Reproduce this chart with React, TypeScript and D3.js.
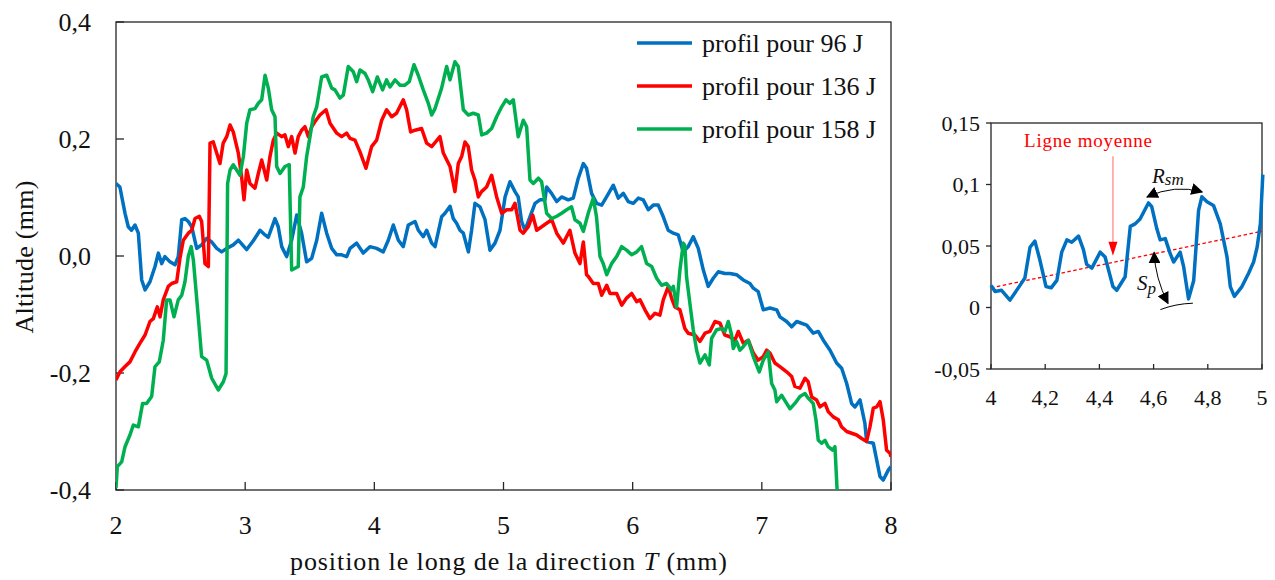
import React from 'react';
import * as d3 from 'd3';

type Pt = [number, number];

// profils d'altitude le long de T (mm)
const profile96: Pt[] = [[2.0,0.124],[2.03,0.118],[2.07,0.073],[2.095,0.05],[2.12,0.044],[2.147,0.053],[2.173,0.039],[2.199,-0.041],[2.225,-0.058],[2.263,-0.044],[2.302,-0.018],[2.328,0.005],[2.354,-0.013],[2.379,-0.001],[2.418,-0.01],[2.457,-0.015],[2.482,-0.001],[2.509,0.062],[2.534,0.064],[2.56,0.059],[2.586,0.05],[2.625,0.013],[2.663,0.019],[2.702,0.03],[2.741,0.024],[2.78,0.013],[2.818,0.007],[2.857,0.013],[2.908,0.019],[2.947,0.027],[3.012,0.011],[3.063,0.026],[3.115,0.044],[3.154,0.036],[3.179,0.032],[3.231,0.064],[3.256,0.05],[3.283,0.016],[3.321,-0.001],[3.36,0.027],[3.399,0.07],[3.437,0.039],[3.476,-0.01],[3.515,-0.004],[3.554,0.027],[3.592,0.073],[3.631,0.039],[3.67,0.013],[3.709,0.002],[3.747,0.002],[3.786,-0.001],[3.812,0.013],[3.863,0.022],[3.914,0.005],[3.966,0.016],[4.018,0.013],[4.069,0.007],[4.108,0.027],[4.147,0.053],[4.186,0.027],[4.224,0.016],[4.263,0.053],[4.315,0.059],[4.341,0.044],[4.379,0.033],[4.405,0.044],[4.444,0.022],[4.47,0.016],[4.521,0.067],[4.547,0.073],[4.586,0.085],[4.611,0.064],[4.637,0.056],[4.663,0.044],[4.689,0.039],[4.728,0.007],[4.753,0.044],[4.779,0.09],[4.818,0.084],[4.857,0.062],[4.895,0.01],[4.934,0.022],[4.973,0.044],[5.012,0.101],[5.05,0.127],[5.089,0.11],[5.114,0.101],[5.14,0.059],[5.166,0.044],[5.205,0.067],[5.244,0.09],[5.282,0.096],[5.321,0.096],[5.334,0.118],[5.372,0.107],[5.412,0.093],[5.45,0.101],[5.501,0.096],[5.54,0.099],[5.579,0.133],[5.618,0.158],[5.643,0.15],[5.682,0.107],[5.721,0.09],[5.76,0.087],[5.798,0.101],[5.85,0.121],[5.889,0.099],[5.928,0.107],[5.966,0.093],[6.005,0.09],[6.044,0.099],[6.082,0.096],[6.121,0.079],[6.16,0.087],[6.198,0.087],[6.237,0.067],[6.275,0.044],[6.315,0.039],[6.353,0.036],[6.392,0.007],[6.43,0.016],[6.469,0.033],[6.508,0.013],[6.547,-0.024],[6.585,-0.052],[6.624,-0.038],[6.663,-0.027],[6.714,-0.03],[6.753,-0.03],[6.804,-0.032],[6.856,-0.041],[6.908,-0.047],[6.934,-0.055],[6.972,-0.061],[7.011,-0.092],[7.063,-0.089],[7.115,-0.092],[7.14,-0.104],[7.192,-0.112],[7.231,-0.121],[7.27,-0.112],[7.347,-0.118],[7.398,-0.132],[7.437,-0.129],[7.476,-0.144],[7.528,-0.161],[7.579,-0.183],[7.618,-0.192],[7.657,-0.218],[7.695,-0.252],[7.721,-0.258],[7.76,-0.246],[7.798,-0.286],[7.811,-0.317],[7.863,-0.32],[7.915,-0.377],[7.94,-0.383],[7.979,-0.366],[8.0,-0.36]];

const profile136: Pt[] = [[2.0,-0.212],[2.031,-0.198],[2.07,-0.189],[2.108,-0.181],[2.147,-0.164],[2.186,-0.149],[2.225,-0.135],[2.263,-0.112],[2.289,-0.107],[2.32,-0.087],[2.341,-0.104],[2.366,-0.075],[2.405,-0.052],[2.431,-0.047],[2.47,-0.044],[2.495,-0.004],[2.521,0.027],[2.56,0.039],[2.586,0.044],[2.612,0.064],[2.645,0.068],[2.663,0.059],[2.689,-0.013],[2.715,-0.018],[2.728,0.193],[2.753,0.195],[2.805,0.158],[2.83,0.193],[2.857,0.204],[2.883,0.224],[2.908,0.212],[2.947,0.176],[2.972,0.136],[2.991,0.096],[3.012,0.147],[3.037,0.124],[3.076,0.116],[3.102,0.141],[3.128,0.164],[3.167,0.13],[3.192,0.17],[3.218,0.198],[3.244,0.21],[3.283,0.204],[3.308,0.207],[3.334,0.187],[3.36,0.204],[3.386,0.176],[3.411,0.204],[3.437,0.215],[3.463,0.221],[3.489,0.204],[3.515,0.221],[3.541,0.23],[3.579,0.241],[3.626,0.25],[3.657,0.227],[3.709,0.21],[3.747,0.204],[3.786,0.21],[3.812,0.201],[3.85,0.198],[3.889,0.178],[3.935,0.15],[3.979,0.187],[4.018,0.198],[4.057,0.232],[4.095,0.25],[4.134,0.238],[4.172,0.244],[4.224,0.267],[4.25,0.25],[4.281,0.212],[4.315,0.215],[4.366,0.218],[4.405,0.193],[4.444,0.187],[4.508,0.204],[4.534,0.176],[4.586,0.153],[4.624,0.11],[4.65,0.158],[4.676,0.17],[4.702,0.195],[4.727,0.187],[4.753,0.147],[4.779,0.13],[4.805,0.101],[4.83,0.11],[4.869,0.118],[4.908,0.138],[4.947,0.101],[4.986,0.073],[5.025,0.079],[5.063,0.079],[5.089,0.09],[5.128,0.044],[5.153,0.039],[5.192,0.05],[5.226,0.07],[5.257,0.044],[5.296,0.05],[5.334,0.056],[5.373,0.062],[5.412,0.039],[5.463,0.022],[5.514,0.044],[5.553,0.005],[5.592,-0.013],[5.618,0.024],[5.643,-0.032],[5.657,-0.035],[5.695,-0.047],[5.734,-0.047],[5.76,-0.067],[5.799,-0.05],[5.824,-0.064],[5.876,-0.064],[5.915,-0.084],[5.953,-0.072],[5.992,-0.064],[6.031,-0.078],[6.057,-0.075],[6.095,-0.092],[6.134,-0.107],[6.173,-0.098],[6.211,-0.101],[6.237,-0.075],[6.276,-0.052],[6.301,-0.072],[6.327,-0.087],[6.366,-0.092],[6.404,-0.124],[6.43,-0.132],[6.482,-0.135],[6.521,-0.146],[6.56,-0.132],[6.598,-0.129],[6.637,-0.112],[6.676,-0.115],[6.714,-0.135],[6.753,-0.138],[6.792,-0.144],[6.818,-0.129],[6.856,-0.149],[6.895,-0.144],[6.934,-0.166],[6.972,-0.178],[7.011,-0.172],[7.037,-0.161],[7.063,-0.166],[7.101,-0.183],[7.14,-0.189],[7.192,-0.198],[7.231,-0.206],[7.256,-0.223],[7.295,-0.226],[7.334,-0.209],[7.359,-0.215],[7.386,-0.241],[7.424,-0.246],[7.45,-0.258],[7.489,-0.252],[7.514,-0.266],[7.553,-0.275],[7.592,-0.28],[7.617,-0.292],[7.657,-0.3],[7.695,-0.303],[7.734,-0.306],[7.773,-0.312],[7.811,-0.317],[7.837,-0.292],[7.863,-0.26],[7.889,-0.258],[7.915,-0.249],[7.94,-0.28],[7.966,-0.332],[7.992,-0.337],[8.0,-0.343]];

const profile158: Pt[] = [[2.0,-0.397],[2.01,-0.36],[2.044,-0.352],[2.07,-0.326],[2.108,-0.306],[2.134,-0.289],[2.173,-0.292],[2.206,-0.252],[2.237,-0.252],[2.276,-0.24],[2.302,-0.189],[2.335,-0.181],[2.366,-0.144],[2.392,-0.075],[2.418,-0.075],[2.449,-0.104],[2.482,-0.075],[2.509,-0.067],[2.534,-0.044],[2.56,0.0],[2.582,0.016],[2.599,-0.007],[2.637,-0.104],[2.663,-0.172],[2.702,-0.178],[2.741,-0.209],[2.792,-0.229],[2.831,-0.215],[2.852,-0.201],[2.864,0.124],[2.883,0.147],[2.908,0.156],[2.934,0.147],[2.96,0.138],[2.986,0.17],[3.012,0.227],[3.037,0.25],[3.076,0.252],[3.102,0.261],[3.128,0.267],[3.154,0.309],[3.179,0.287],[3.205,0.25],[3.231,0.238],[3.244,0.153],[3.27,0.141],[3.308,0.153],[3.341,0.156],[3.36,-0.024],[3.386,-0.021],[3.411,-0.018],[3.424,0.101],[3.45,0.118],[3.476,0.17],[3.502,0.204],[3.527,0.238],[3.554,0.255],[3.592,0.306],[3.631,0.309],[3.67,0.287],[3.695,0.284],[3.734,0.27],[3.76,0.275],[3.798,0.324],[3.837,0.315],[3.863,0.298],[3.889,0.318],[3.928,0.312],[3.953,0.301],[3.987,0.281],[4.023,0.306],[4.064,0.284],[4.095,0.301],[4.121,0.289],[4.16,0.301],[4.199,0.292],[4.237,0.292],[4.27,0.298],[4.307,0.327],[4.34,0.309],[4.379,0.284],[4.418,0.261],[4.444,0.241],[4.47,0.252],[4.521,0.287],[4.56,0.324],[4.586,0.301],[4.624,0.332],[4.65,0.324],[4.689,0.25],[4.728,0.241],[4.766,0.244],[4.805,0.241],[4.831,0.207],[4.869,0.21],[4.908,0.218],[4.947,0.238],[4.986,0.255],[5.019,0.267],[5.05,0.261],[5.076,0.267],[5.114,0.204],[5.153,0.232],[5.179,0.221],[5.205,0.13],[5.231,0.124],[5.27,0.133],[5.295,0.127],[5.334,0.073],[5.373,0.064],[5.412,0.068],[5.45,0.073],[5.489,0.079],[5.527,0.084],[5.553,0.062],[5.592,0.056],[5.618,0.042],[5.656,0.073],[5.695,0.099],[5.72,0.067],[5.747,-0.001],[5.772,-0.013],[5.799,-0.032],[5.837,-0.013],[5.876,-0.001],[5.915,0.016],[5.953,0.01],[5.992,0.002],[6.031,0.007],[6.069,0.016],[6.108,-0.013],[6.147,-0.018],[6.186,-0.038],[6.224,-0.05],[6.263,-0.047],[6.301,-0.058],[6.315,-0.052],[6.34,-0.087],[6.366,-0.024],[6.392,0.022],[6.404,0.018],[6.417,-0.035],[6.443,-0.081],[6.469,-0.126],[6.495,-0.161],[6.521,-0.183],[6.56,-0.169],[6.593,-0.186],[6.611,-0.141],[6.65,-0.126],[6.689,-0.124],[6.714,-0.129],[6.74,-0.112],[6.766,-0.135],[6.779,-0.158],[6.804,-0.146],[6.83,-0.161],[6.856,-0.155],[6.895,-0.144],[6.934,-0.172],[6.98,-0.198],[7.011,-0.178],[7.05,-0.164],[7.076,-0.218],[7.101,-0.229],[7.115,-0.249],[7.153,-0.238],[7.192,-0.252],[7.218,-0.261],[7.256,-0.252],[7.295,-0.24],[7.334,-0.235],[7.359,-0.243],[7.398,-0.252],[7.419,-0.28],[7.437,-0.315],[7.463,-0.32],[7.489,-0.315],[7.514,-0.326],[7.548,-0.332],[7.566,-0.326],[7.585,-0.41]];

// zoom du profil 96 J entre 4 et 5 mm
const zoom96: Pt[] = [[4.0,0.018],[4.015,0.013],[4.039,0.014],[4.07,0.006],[4.107,0.018],[4.125,0.024],[4.144,0.049],[4.162,0.054],[4.18,0.039],[4.203,0.017],[4.222,0.016],[4.243,0.022],[4.261,0.045],[4.28,0.055],[4.298,0.053],[4.323,0.058],[4.341,0.047],[4.353,0.035],[4.372,0.032],[4.403,0.045],[4.421,0.041],[4.45,0.017],[4.464,0.014],[4.495,0.025],[4.514,0.066],[4.532,0.068],[4.55,0.072],[4.581,0.085],[4.593,0.082],[4.612,0.064],[4.624,0.055],[4.643,0.056],[4.661,0.044],[4.674,0.037],[4.698,0.045],[4.711,0.033],[4.729,0.007],[4.748,0.022],[4.766,0.079],[4.778,0.09],[4.797,0.086],[4.821,0.083],[4.846,0.068],[4.871,0.041],[4.883,0.017],[4.898,0.009],[4.926,0.017],[4.951,0.028],[4.969,0.037],[4.982,0.049],[4.994,0.068],[5.003,0.108]];
const meanLine: Pt[] = [[4.0,0.016],[5.0,0.062]];

const seriesNames = ['profil pour 96 J', 'profil pour 136 J', 'profil pour 158 J'];
const seriesColors = ['#0070C0', '#FF0000', '#00B050'];
const seriesData = [profile96, profile136, profile158];

const mainXTicks = [2, 3, 4, 5, 6, 7, 8];
const mainYTicks = [-0.4, -0.2, 0, 0.2, 0.4];
const zoomXTicks = [4, 4.2, 4.4, 4.6, 4.8, 5];
const zoomYTicks = [-0.05, 0, 0.05, 0.1, 0.15];

const fr = d3.formatLocale({ decimal: ',', thousands: ' ', grouping: [3], currency: ['', ' €'], minus: '-' });
const fmt1 = fr.format('.1f');
const fmtG = fr.format('~g');

const FONT = "'Liberation Serif', 'DejaVu Serif', serif";
const AXIS = '#262626';
const TXT = { fontFamily: FONT };

export default function App() {
  // main plot
  const m = { left: 116, right: 891, top: 22, bottom: 490 };
  const x = d3.scaleLinear().domain([2, 8]).range([m.left, m.right]);
  const y = d3.scaleLinear().domain([-0.4, 0.4]).range([m.bottom, m.top]);
  const line = d3.line<Pt>().x(d => x(d[0])).y(d => y(d[1]));

  // inset plot
  const z = { left: 991, right: 1262, top: 123, bottom: 369 };
  const zx = d3.scaleLinear().domain([4, 5]).range([z.left, z.right]);
  const zy = d3.scaleLinear().domain([-0.05, 0.15]).range([z.bottom, z.top]);
  const zline = d3.line<Pt>().x(d => zx(d[0])).y(d => zy(d[1]));

  // annotation anchors (inset data coords)
  const arrowX = zx(4.45);
  const arrowTip = zy(0.042);
  const arrowTop = zy(0.123);
  const rsmA: Pt = [zx(4.576), zy(0.0898)];
  const rsmB: Pt = [zx(4.779), zy(0.0939)];
  const spA: Pt = [zx(4.602), zy(0.0448)];
  const spB: Pt = [zx(4.653), zy(0.0034)];

  return (
    <svg width={1275} height={580} style={{ position: 'absolute', left: 0, top: 0, background: '#fff', fontFamily: FONT }}>
      <defs>
        <clipPath id="mainClip">
          <rect x={m.left} y={m.top} width={m.right - m.left} height={m.bottom - m.top} />
        </clipPath>
        <marker id="blackHead" viewBox="0 0 10 10" refX="9" refY="5" markerWidth="12" markerHeight="12" markerUnits="userSpaceOnUse" orient="auto-start-reverse">
          <path d="M0,0 L10,5 L0,10 z" fill="#000" />
        </marker>
      </defs>

      {/* main frame */}
      <rect x={m.left} y={m.top} width={m.right - m.left} height={m.bottom - m.top} fill="none" stroke={AXIS} strokeWidth={1.3} />
      {mainYTicks.map(t => (
        <g key={'my' + t}>
          <line x1={m.left} x2={m.left + 8} y1={y(t)} y2={y(t)} stroke={AXIS} strokeWidth={1.3} />
          <text x={91} y={y(t)} dy="0.35em" textAnchor="end" fontSize={26} fill="#111" style={TXT}>{fmt1(t)}</text>
        </g>
      ))}
      {mainXTicks.map(t => (
        <g key={'mx' + t}>
          <line x1={x(t)} x2={x(t)} y1={m.bottom} y2={m.bottom - 8} stroke={AXIS} strokeWidth={1.3} />
          <text x={x(t)} y={534} textAnchor="middle" fontSize={26} fill="#111" style={TXT}>{fmtG(t)}</text>
        </g>
      ))}
      <text x={290} y={570} fontSize={26} fill="#111" style={TXT} textLength={437} lengthAdjust="spacing">
        position le long de la direction <tspan fontStyle="italic">T</tspan> (mm)
      </text>
      <text transform="translate(33,257) rotate(-90)" textAnchor="middle" fontSize={26} fill="#111" style={TXT} textLength={153} lengthAdjust="spacing">Altitude (mm)</text>

      <g clipPath="url(#mainClip)">
        {seriesData.map((s, i) => (
          <path key={i} d={line(s) || ''} fill="none" stroke={seriesColors[i]} strokeWidth={3.5} strokeLinejoin="round" />
        ))}
      </g>

      {/* legend */}
      {seriesNames.map((n, i) => (
        <g key={n} transform={`translate(637,${43 + i * 43})`}>
          <line x1={0} x2={55} y1={0} y2={0} stroke={seriesColors[i]} strokeWidth={3.5} />
          <text x={65} y={0} dy="0.33em" fontSize={26} fill="#111" style={TXT}>{n}</text>
        </g>
      ))}

      {/* inset */}
      <rect x={z.left} y={z.top} width={z.right - z.left} height={z.bottom - z.top} fill="none" stroke={AXIS} strokeWidth={1.3} />
      {zoomYTicks.map(t => (
        <g key={'zy' + t}>
          <line x1={z.left - 5} x2={z.left} y1={zy(t)} y2={zy(t)} stroke={AXIS} strokeWidth={1.3} />
          <text x={980} y={zy(t)} dy="0.35em" textAnchor="end" fontSize={22} fill="#111" style={TXT}>{fmtG(t)}</text>
        </g>
      ))}
      {zoomXTicks.map(t => (
        <g key={'zx' + t}>
          <line x1={zx(t)} x2={zx(t)} y1={z.bottom} y2={z.bottom - 5} stroke={AXIS} strokeWidth={1.3} />
          <text x={zx(t)} y={405} textAnchor="middle" fontSize={22} fill="#111" style={TXT}>{fmtG(t)}</text>
        </g>
      ))}
      <path d={zline(meanLine) || ''} fill="none" stroke="#FF0000" strokeWidth={1.3} strokeDasharray="3.5 2.5" />
      <path d={zline(zoom96) || ''} fill="none" stroke="#0070C0" strokeWidth={3.5} strokeLinejoin="round" />

      <text x={1024} y={147} fontSize={19} fill="#FF0000" style={TXT} textLength={128} lengthAdjust="spacing">Ligne moyenne</text>
      <line x1={arrowX} x2={arrowX} y1={arrowTop} y2={arrowTip - 13} stroke="#FF9999" strokeWidth={1.5} />
      <path d={`M${arrowX - 4.5},${arrowTip - 14} L${arrowX + 4.5},${arrowTip - 14} L${arrowX},${arrowTip} z`} fill="#FF0000" />

      <path d={`M${rsmA[0]},${rsmA[1]} Q${(rsmA[0] + rsmB[0]) / 2},${Math.min(rsmA[1], rsmB[1]) - 8} ${rsmB[0]},${rsmB[1]}`} fill="none" stroke="#000" strokeWidth={1} markerStart="url(#blackHead)" markerEnd="url(#blackHead)" />
      <text x={1152} y={183} fontSize={21} fontStyle="italic" fill="#111" style={TXT}>R<tspan fontSize={17} dy={2}>sm</tspan></text>

      <path d={`M${spA[0]},${spA[1]} Q${(spA[0] + spB[0]) / 2 - 6},${(spA[1] + spB[1]) / 2} ${spB[0]},${spB[1]}`} fill="none" stroke="#000" strokeWidth={1} markerStart="url(#blackHead)" markerEnd="url(#blackHead)" />
      <path d={`M${zx(4.625)},${zy(-0.0017)} Q${zx(4.68)},${zy(0.003)} ${zx(4.745)},${zy(0.0035)}`} fill="none" stroke="#000" strokeWidth={1} />
      <text x={1137} y={290} fontSize={21} fontStyle="italic" fill="#111" style={TXT}>S<tspan fontSize={17} dy={4}>p</tspan></text>
    </svg>
  );
}
